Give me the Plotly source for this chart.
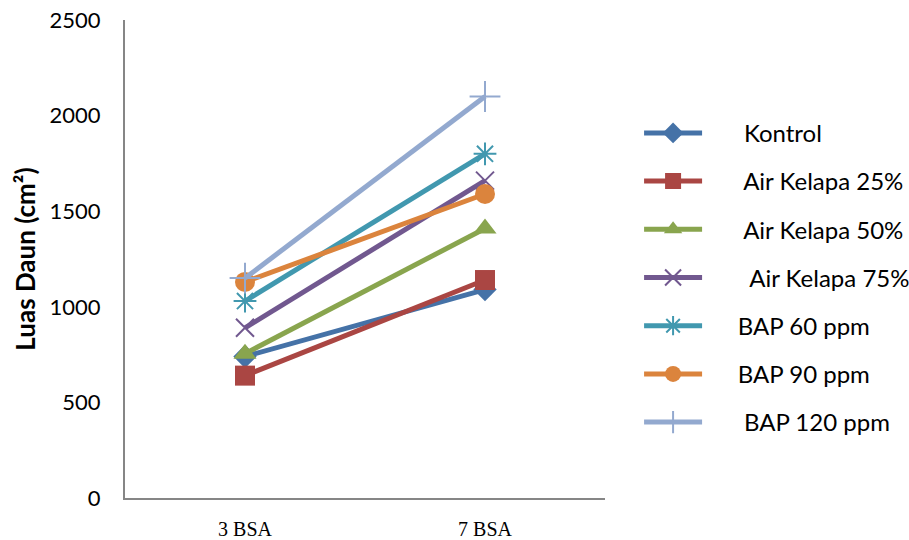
import plotly.graph_objects as go

categories = ["3 BSA", "7 BSA"]
series_names = ["Kontrol", "Air Kelapa 25%", "Air Kelapa 50%", "Air Kelapa 75%",
                "BAP 60 ppm", "BAP 90 ppm", "BAP 120 ppm"]
kontrol = [740, 1090]
air_kelapa_25 = [640, 1140]
air_kelapa_50 = [755, 1410]
air_kelapa_75 = [890, 1660]
bap_60 = [1030, 1800]
bap_90 = [1130, 1590]
bap_120 = [1150, 2100]
y_ticks = [0, 500, 1000, 1500, 2000, 2500]

values = [kontrol, air_kelapa_25, air_kelapa_50, air_kelapa_75, bap_60, bap_90, bap_120]
colors = ["#4572A7", "#AA4643", "#89A54E", "#71588F", "#4198AF", "#DB843D", "#93A9CF"]
symbols = ["diamond", "square", "triangle-up", "x-thin-open", "asterisk-open", "circle", "cross-thin-open"]
sizes = [18, 20, 20, 18, 19, 20, 22]
pads = ["      ", "      ", "      ", "       ", "     ", "     ", "      "]

fig = go.Figure()
for name, vals, col, sym, sz, pad in zip(series_names, values, colors, symbols, sizes, pads):
    thin = sym.endswith("open")
    fig.add_trace(go.Scatter(
        x=categories, y=vals, name=pad + name, mode="lines+markers",
        legendgroup=name,
        line=dict(color=col, width=5),
        marker=dict(symbol=sym, size=sz, color=col,
                    line=dict(color=col, width=2 if thin else 0)),
    ))

fig.update_layout(
    width=909, height=540,
    margin=dict(l=125, r=304, t=20, b=42, autoexpand=False),
    paper_bgcolor="white", plot_bgcolor="white",
    font=dict(family="Lato, sans-serif", size=18, color="black"),
    showlegend=True,
    legend=dict(x=1.071, y=0.81, xanchor="left", yanchor="top",
                tracegroupgap=14, itemwidth=58,
                font=dict(size=24, family="Lato, sans-serif")),
    xaxis=dict(type="category", showline=True, linecolor="#868686", linewidth=2,
               showgrid=False, ticks="", range=[-0.5, 1.5], automargin=False,
               tickfont=dict(family="Liberation Serif, serif", size=20),
               ticklabelstandoff=12),
    yaxis=dict(range=[0, 2500], tickvals=y_ticks, showline=True, linecolor="#868686",
               linewidth=2, showgrid=False, ticks="", zeroline=False, automargin=False,
               tickfont=dict(family="Lato, sans-serif", size=22),
               ticklabelstandoff=18,
               title=dict(text="<b>Luas Daun (cm²)</b>", standoff=6,
                          font=dict(family="Lato, sans-serif", size=26))),
)

fig.write_html("out.html", config={"displayModeBar": False},
               post_script="document.body.style.margin='0';document.body.style.padding='0';")
